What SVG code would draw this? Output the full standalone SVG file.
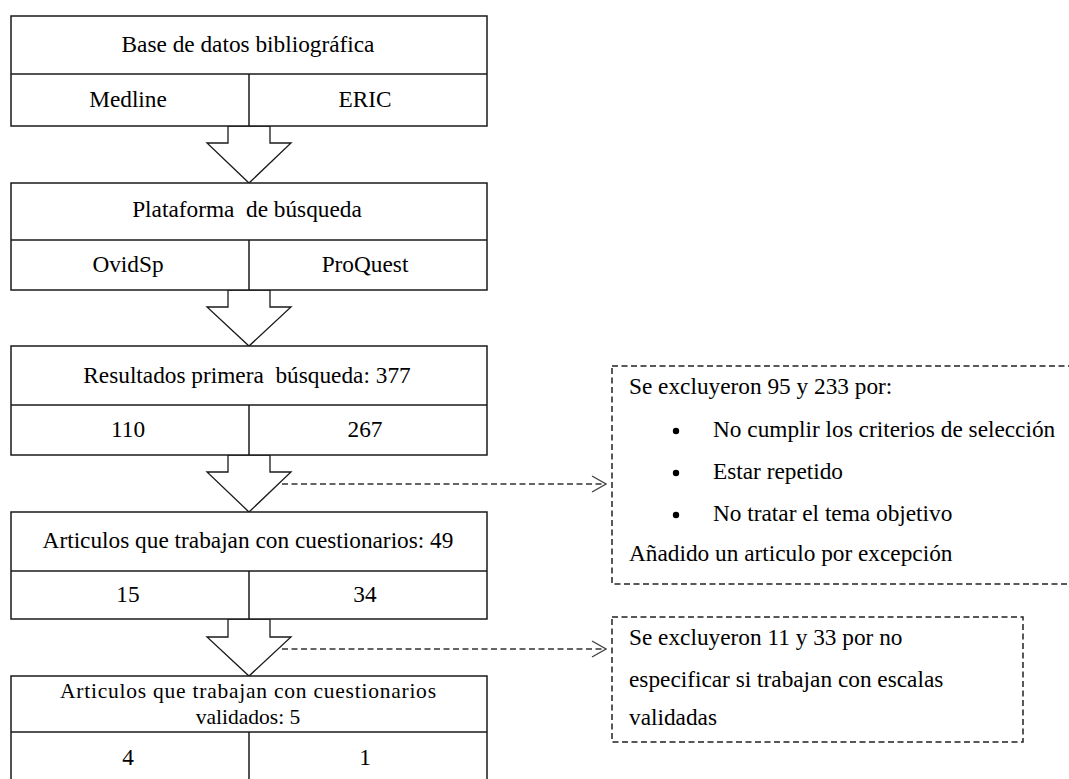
<svg xmlns="http://www.w3.org/2000/svg" width="1069" height="779" viewBox="0 0 1069 779">
<defs>
<style>
.box{fill:#fff;stroke:#1a1a1a;stroke-width:1.5}
.div{stroke:#1a1a1a;stroke-width:1.5;fill:none}
.t{font-family:"Liberation Serif","Times New Roman",serif;font-size:23.3px;fill:#000;text-anchor:middle}
.t2{font-family:"Liberation Serif","Times New Roman",serif;font-size:21.5px;fill:#000;text-anchor:middle}
.s{font-family:"Liberation Serif","Times New Roman",serif;font-size:23.3px;fill:#000}
.blk{fill:#fff;stroke:#1a1a1a;stroke-width:1.3}
.dash{fill:none;stroke:#333;stroke-width:1.3;stroke-dasharray:6,3.5}
.dbox{fill:#fff;stroke:#222;stroke-width:1.5;stroke-dasharray:6,3.5}
</style>
<marker id="open" viewBox="0 0 16 18" refX="15" refY="9" markerWidth="16" markerHeight="18" markerUnits="userSpaceOnUse" orient="auto">
<path d="M1,1 L15,9 L1,17" fill="none" stroke="#444" stroke-width="1.4"/>
</marker>
</defs>
<rect width="1069" height="779" fill="#fff"/>

<g id="connectors">
<polygon class="blk" points="228,126 228,143 207,143 249,183 291,143 270,143 270,126"/>
<polygon class="blk" points="228,290 228,307 207,307 249,346 291,307 270,307 270,290"/>
<polygon class="blk" points="228,455 228,472 207,472 249,512 291,472 270,472 270,455"/>
<polygon class="blk" points="228,619 228,637 207,637 249,676 291,637 270,637 270,619"/>
<line class="dash" x1="282" y1="484" x2="606" y2="484" marker-end="url(#open)"/>
<line class="dash" x1="282" y1="649" x2="606" y2="649" marker-end="url(#open)"/>
</g>

<g id="node-base">
<rect class="box" x="11" y="16" width="476" height="110"/>
<line class="div" x1="11" y1="74" x2="487" y2="74"/>
<line class="div" x1="249" y1="74" x2="249" y2="126"/>
<text class="t" x="248" y="52">Base de datos bibliográfica</text>
<text class="t" x="128" y="107">Medline</text>
<text class="t" x="365" y="107">ERIC</text>
</g>

<g id="node-plataforma">
<rect class="box" x="11" y="183" width="476" height="107"/>
<line class="div" x1="11" y1="240" x2="487" y2="240"/>
<line class="div" x1="249" y1="240" x2="249" y2="290"/>
<text class="t" x="247" y="217">Plataforma&#160; de búsqueda</text>
<text class="t" x="128" y="272">OvidSp</text>
<text class="t" x="365" y="272">ProQuest</text>
</g>

<g id="node-resultados">
<rect class="box" x="11" y="346" width="476" height="109"/>
<line class="div" x1="11" y1="405" x2="487" y2="405"/>
<line class="div" x1="249" y1="405" x2="249" y2="455"/>
<text class="t" x="247" y="383">Resultados primera&#160; búsqueda: 377</text>
<text class="t" x="128" y="437">110</text>
<text class="t" x="365" y="437">267</text>
</g>

<g id="node-cuestionarios">
<rect class="box" x="11" y="512" width="476" height="107"/>
<line class="div" x1="11" y1="571" x2="487" y2="571"/>
<line class="div" x1="249" y1="571" x2="249" y2="619"/>
<text class="t" x="248" y="548">Articulos que trabajan con cuestionarios: 49</text>
<text class="t" x="128" y="602">15</text>
<text class="t" x="365" y="602">34</text>
</g>

<g id="node-validados">
<rect class="box" x="11" y="676" width="476" height="120"/>
<line class="div" x1="11" y1="732" x2="487" y2="732"/>
<line class="div" x1="249" y1="732" x2="249" y2="790"/>
<text class="t2" x="248" y="698" textLength="376" lengthAdjust="spacing">Articulos que trabajan con cuestionarios</text>
<text class="t2" x="248" y="724">validados: 5</text>
<text class="t" x="128" y="765">4</text>
<text class="t" x="365" y="765">1</text>
</g>

<g id="note-excluidos-1">
<rect class="dbox" x="612" y="366" width="470" height="218"/>
<text class="s" x="629" y="394">Se excluyeron 95 y 233 por:</text>
<circle cx="676" cy="431" r="3.2" fill="#000"/>
<circle cx="676" cy="473" r="3.2" fill="#000"/>
<circle cx="676" cy="515" r="3.2" fill="#000"/>
<text class="s" x="713" y="437">No cumplir los criterios de selección</text>
<text class="s" x="713" y="479">Estar repetido</text>
<text class="s" x="713" y="521">No tratar el tema objetivo</text>
<text class="s" x="629" y="561">Añadido un articulo por excepción</text>
</g>

<g id="note-excluidos-2">
<rect class="dbox" x="612" y="617" width="411" height="125"/>
<text class="s" x="629" y="645">Se excluyeron 11 y 33 por no</text>
<text class="s" x="629" y="687">especificar si trabajan con escalas</text>
<text class="s" x="629" y="725">validadas</text>
</g>
</svg>
